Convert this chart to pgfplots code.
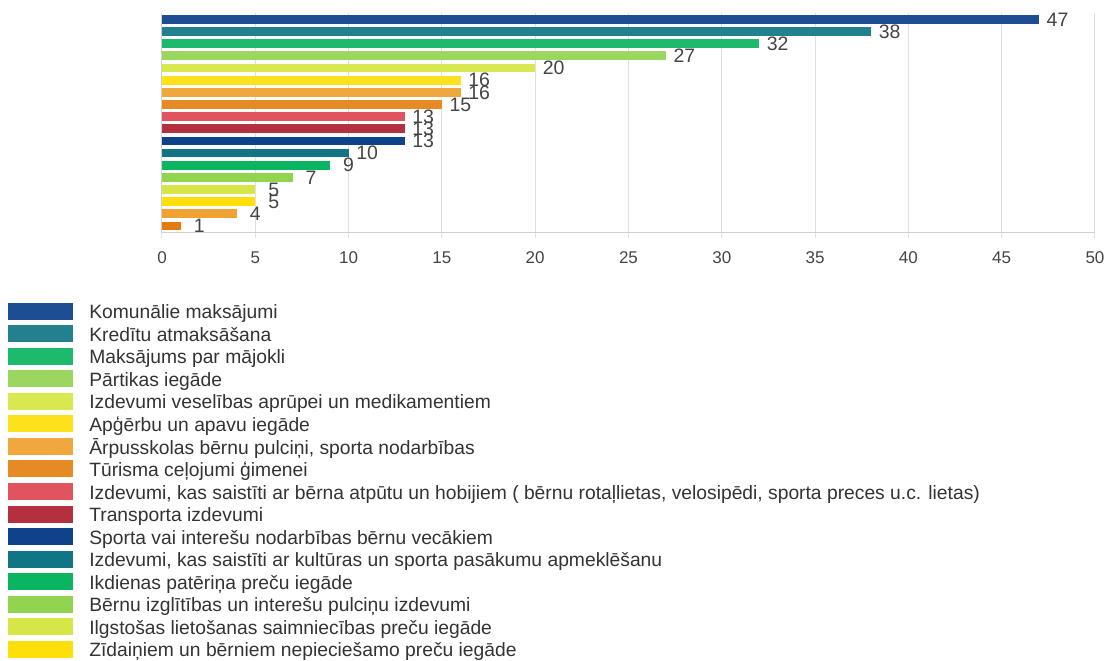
\documentclass[border=0pt]{standalone}
\usepackage{pgfplots}
\pgfplotsset{compat=1.18}
\usepackage{fontspec}
\setmainfont{Liberation Sans}
\definecolor{c1}{HTML}{1D4E93}
\definecolor{c2}{HTML}{23818F}
\definecolor{c3}{HTML}{1DB96C}
\definecolor{c4}{HTML}{9BD661}
\definecolor{c5}{HTML}{D8E850}
\definecolor{c6}{HTML}{FDE11C}
\definecolor{c7}{HTML}{F0A73D}
\definecolor{c8}{HTML}{E68A25}
\definecolor{c9}{HTML}{E0535F}
\definecolor{c10}{HTML}{B5303F}
\definecolor{c11}{HTML}{0E428B}
\definecolor{c12}{HTML}{107686}
\definecolor{c13}{HTML}{0AB461}
\definecolor{c14}{HTML}{90D450}
\definecolor{c15}{HTML}{D6E647}
\definecolor{c16}{HTML}{FFDF0A}
\definecolor{c17}{HTML}{F0A232}
\definecolor{c18}{HTML}{E57A10}
\definecolor{gridgray}{HTML}{E0E0E0}
\definecolor{axisgray}{HTML}{D0D0D0}
\definecolor{labgray}{HTML}{444444}
\definecolor{leggray}{HTML}{333333}
\pgfplotsset{mybar/.style={fill=#1, draw=none, bar shift=0pt}}
\begin{document}
\begin{tikzpicture}
\useasboundingbox (0pt,0pt) rectangle (831pt,495.75pt);
\begin{axis}[
  at={(121.5pt,321.75pt)}, anchor=south west,
  scale only axis, width=699.75pt, height=164pt,
  xmin=0, xmax=50, ymin=-0.5, ymax=17.5, y dir=reverse,
  xbar, bar width=0.72,
  xtick={0,5,...,50}, ytick=\empty,
  xmajorgrids, grid style={draw=gridgray, line width=0.75pt},
  axis x line*=bottom, axis y line*=left,
  axis line style={-, draw=axisgray, line width=0.75pt},
  major tick length=4.5pt, tick align=outside, tick style={draw=gridgray, line width=0.75pt},
  xticklabel style={font=\fontsize{12.75}{15}\selectfont, text=labgray, yshift=-6.5pt},
  /pgf/number format/assume math mode=true,
  nodes near coords, point meta=x,
  every node near coord/.append style={anchor=center, xshift=13.9pt, font=\fontsize{14.6}{17}\selectfont, text=labgray, inner sep=0pt},
  legend cell align=left,
  legend style={at={(-0.1693,-0.31)}, anchor=north west, draw=none, fill=none,
    font=\fontsize{14.45}{16}\selectfont, text=leggray, row sep=-1.1pt, column sep=12pt,
    nodes={inner sep=0pt, text height=11pt, text depth=5.9pt}},
  legend image code/.code={\fill[#1] (0pt,-3.2pt) rectangle (48.75pt,9.55pt);},
]
\addplot[mybar=c1] coordinates {(47,0)};
\addplot[mybar=c2] coordinates {(38,1)};
\addplot[mybar=c3] coordinates {(32,2)};
\addplot[mybar=c4] coordinates {(27,3)};
\addplot[mybar=c5] coordinates {(20,4)};
\addplot[mybar=c6] coordinates {(16,5)};
\addplot[mybar=c7] coordinates {(16,6)};
\addplot[mybar=c8] coordinates {(15,7)};
\addplot[mybar=c9] coordinates {(13,8)};
\addplot[mybar=c10] coordinates {(13,9)};
\addplot[mybar=c11] coordinates {(13,10)};
\addplot[mybar=c12] coordinates {(10,11)};
\addplot[mybar=c13] coordinates {(9,12)};
\addplot[mybar=c14] coordinates {(7,13)};
\addplot[mybar=c15] coordinates {(5,14)};
\addplot[mybar=c16] coordinates {(5,15)};
\addplot[mybar=c17, forget plot] coordinates {(4,16)};
\addplot[mybar=c18, forget plot] coordinates {(1,17)};
\legend{Komunālie maksājumi,
Kredītu atmaksāšana,
Maksājums par mājokli,
Pārtikas iegāde,
Izdevumi veselības aprūpei un medikamentiem,
Apģērbu un apavu iegāde,
Ārpusskolas bērnu pulciņi{,} sporta nodarbības,
Tūrisma ceļojumi ģimenei,
Izdevumi{,} kas saistīti ar bērna atpūtu un hobijiem ( bērnu rotaļlietas{,} velosipēdi{,} sporta preces u.c. lietas),
Transporta izdevumi,
Sporta vai interešu nodarbības bērnu vecākiem,
Izdevumi{,} kas saistīti ar kultūras un sporta pasākumu apmeklēšanu,
Ikdienas patēriņa preču iegāde,
Bērnu izglītības un interešu pulciņu izdevumi,
Ilgstošas lietošanas saimniecības preču iegāde,
Zīdaiņiem un bērniem nepieciešamo preču iegāde}
\end{axis}
\end{tikzpicture}
\end{document}
